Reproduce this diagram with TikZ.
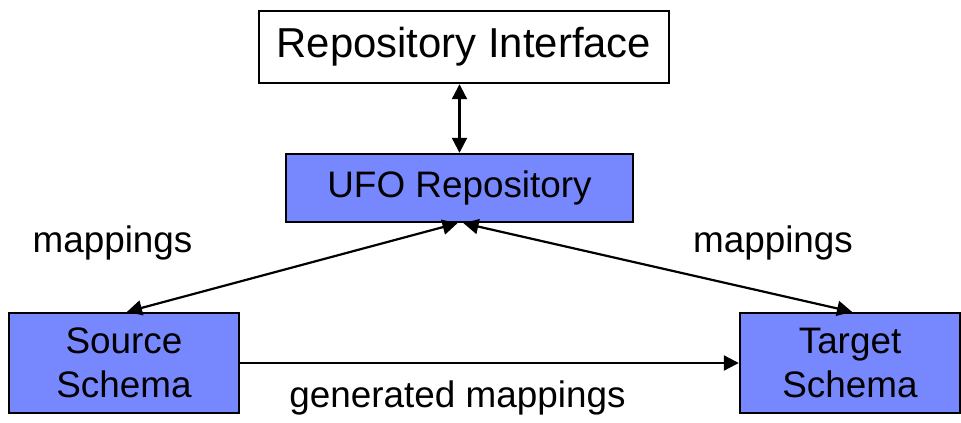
\documentclass[tikz,border=0pt]{standalone}
\usepackage{fontspec}
\setmainfont{Liberation Sans}
\usetikzlibrary{arrows.meta}
\definecolor{boxblue}{RGB}{119,136,255}
\tikzset{
  box/.style={draw=black, line width=2.4bp, inner sep=0pt, align=center},
  bluebox/.style={box, fill=boxblue},
  lbl/.style={font=\fontsize{37}{43}\selectfont, anchor=base, inner sep=0pt},
  tip/.style={Triangle[length=15bp,width=15bp]},
  link/.style={line width=2.2bp, -{Triangle[length=15bp,width=15bp]}},
  blink/.style={line width=2.2bp, {Triangle[length=15bp,width=15bp]}-{Triangle[length=15bp,width=15bp]}}
}
\begin{document}
\begin{tikzpicture}[x=1bp, y=-1bp]
\useasboundingbox (0,0) rectangle (961,422);
% boxes
\node[box, minimum width=410bp, minimum height=72bp, font=\fontsize{42}{50}\selectfont] (iface) at (464,47) {Repository Interface};
\node[bluebox, minimum width=347bp, minimum height=68bp, font=\fontsize{37}{43}\selectfont] (ufo) at (459.5,188) {UFO Repository};
\node[bluebox, minimum width=230bp, minimum height=100bp, font=\fontsize{37}{44}\selectfont] (src) at (124,363) {Source\\Schema};
\node[bluebox, minimum width=220bp, minimum height=100bp, font=\fontsize{37}{44}\selectfont] (tgt) at (850,363) {Target\\Schema};
% labels
\node[lbl] (lmap) at (112.5,252) {mappings};
\node[lbl] (rmap) at (773,252) {mappings};
\node[lbl] (gmap) at (457.5,407) {generated mappings};
% connectors
\draw[blink] (ufo.north) -- (ufo.north |- iface.south);
\draw[blink] ([xshift=-2bp]ufo.south) -- ([xshift=3bp]src.north);
\draw[blink] ([xshift=4bp]ufo.south) -- ([xshift=2bp]tgt.north);
\draw[link] (src.east) -- (tgt.west);
\end{tikzpicture}
\end{document}
